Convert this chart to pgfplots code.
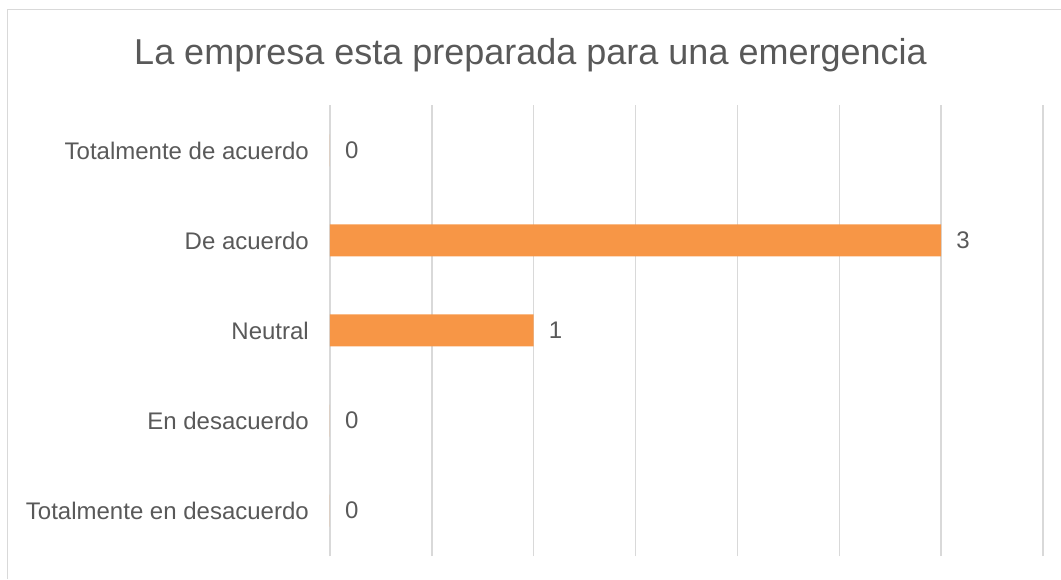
\documentclass[border=0pt]{standalone}
\usepackage{fontspec}
\setmainfont{Liberation Sans}
\usepackage{pgfplots}
\pgfplotsset{compat=1.18}
\definecolor{barc}{RGB}{247,150,70}
\definecolor{txt}{RGB}{89,89,89}
\definecolor{gridc}{RGB}{217,217,217}
\begin{document}
\begin{tikzpicture}
\path[use as bounding box] (0pt,0pt) rectangle (1061pt,579pt);
\draw[gridc, line width=1.5pt] (7.5pt,0pt) -- (7.5pt,569.5pt) -- (1061pt,569.5pt);
\node[txt, anchor=base, inner sep=0pt, font=\fontsize{36}{43}\selectfont] at (530.5pt,514pt) {La empresa esta preparada para una emergencia};
\begin{axis}[
  at={(330pt,23pt)}, anchor=south west, scale only axis,
  width=713pt, height=451pt,
  xmin=0, xmax=3.5, ymin=-0.505, ymax=4.505,
  xbar, bar width=32pt,
  axis line style={draw=none},
  xtick={0,0.5,1,1.5,2,2.5,3,3.5}, xticklabels={},
  xmajorgrids, grid style={gridc, line width=1.5pt},
  major tick length=0pt,
  ytick={0,1,2,3,4},
  yticklabels={Totalmente en desacuerdo, En desacuerdo, Neutral, De acuerdo, Totalmente de acuerdo},
  yticklabel style={txt, font=\fontsize{24}{29}\selectfont, inner sep=0pt, anchor=east, xshift=-21pt},
  /pgf/number format/assume math mode=true,
  nodes near coords,
  nodes near coords style={txt, font=\fontsize{24}{29}\selectfont, anchor=west, inner sep=0pt, xshift=15pt},
  clip=false,
]
\addplot[fill=barc, draw=none] coordinates {(0,0) (0,1) (1,2) (3,3) (0,4)};
\end{axis}
\end{tikzpicture}
\end{document}
